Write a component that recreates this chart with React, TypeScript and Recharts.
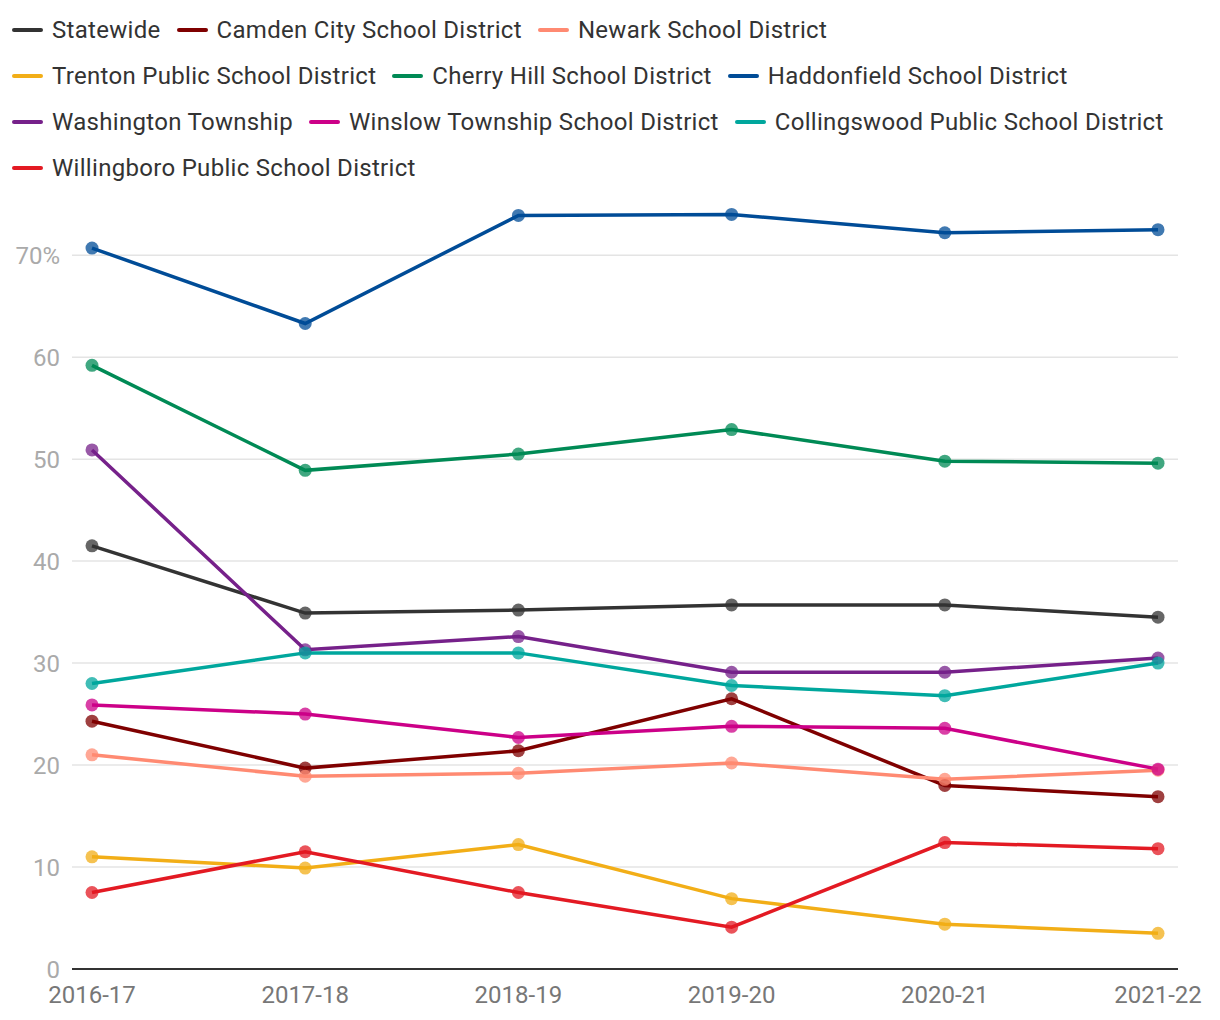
import React from "react";
import { LineChart, Line, XAxis, YAxis, CartesianGrid } from "recharts";

const years = ["2016-17", "2017-18", "2018-19", "2019-20", "2020-21", "2021-22"];
const yTicks = [0, 10, 20, 30, 40, 50, 60, 70];

const statewide = [41.5, 34.9, 35.2, 35.7, 35.7, 34.5];
const camden = [24.3, 19.7, 21.4, 26.5, 18.0, 16.9];
const newark = [21.0, 18.9, 19.2, 20.2, 18.6, 19.5];
const trenton = [11.0, 9.9, 12.2, 6.9, 4.4, 3.5];
const cherryHill = [59.2, 48.9, 50.5, 52.9, 49.8, 49.6];
const haddonfield = [70.7, 63.3, 73.9, 74.0, 72.2, 72.5];
const washington = [50.9, 31.3, 32.6, 29.1, 29.1, 30.5];
const winslow = [25.9, 25.0, 22.7, 23.8, 23.6, 19.6];
const collingswood = [28.0, 31.0, 31.0, 27.8, 26.8, 30.0];
const willingboro = [7.5, 11.5, 7.5, 4.1, 12.4, 11.8];

const series = [
  { key: "statewide", name: "Statewide", color: "#333333", values: statewide },
  { key: "camden", name: "Camden City School District", color: "#7f0000", values: camden },
  { key: "newark", name: "Newark School District", color: "#ff8a72", values: newark },
  { key: "trenton", name: "Trenton Public School District", color: "#f2ae17", values: trenton },
  { key: "cherryHill", name: "Cherry Hill School District", color: "#008a55", values: cherryHill },
  { key: "haddonfield", name: "Haddonfield School District", color: "#004c97", values: haddonfield },
  { key: "washington", name: "Washington Township", color: "#76218a", values: washington },
  { key: "winslow", name: "Winslow Township School District", color: "#cc0088", values: winslow },
  { key: "collingswood", name: "Collingswood Public School District", color: "#00a79d", values: collingswood },
  { key: "willingboro", name: "Willingboro Public School District", color: "#e31a23", values: willingboro },
];

const data = years.map((year, i) => {
  const row: Record<string, any> = { year };
  series.forEach((s) => {
    row[s.key] = s.values[i];
  });
  return row;
});

const FONT = "Roboto, 'Noto Sans', sans-serif";

const legendRows: typeof series[] = [];
for (let i = 0; i < series.length; i += 3) legendRows.push(series.slice(i, i + 3));

function LegendBlock() {
  return (
    <div style={{ position: "absolute", left: 4, top: -1, fontFamily: FONT, fontSize: 24, letterSpacing: 0.3, color: "#333" }}>
      {legendRows.map((row, ri) => (
        <div key={ri} style={{ display: "flex", alignItems: "center", height: 46 }}>
          {row.map((s) => (
            <div key={s.key} style={{ display: "flex", alignItems: "center", marginRight: 16 }}>
              <div style={{ width: 31, height: 4, borderRadius: 2, background: s.color, marginRight: 9 }} />
              <span style={{ whiteSpace: "nowrap" }}>{s.name}</span>
            </div>
          ))}
        </div>
      ))}
    </div>
  );
}

export default function App() {
  return (
    <div style={{ position: "relative", width: 1204, height: 1010 }}>
      <LineChart width={1204} height={1010} data={data} margin={{ top: 186, right: 34, left: 0, bottom: 9 }}>
        <CartesianGrid vertical={false} horizontalValues={yTicks} stroke="#e4e4e4" strokeWidth={1.5} />
        <XAxis
          dataKey="year"
          padding={{ left: 20, right: 20 }}
          axisLine={{ stroke: "#333", strokeWidth: 2 }}
          tickLine={false}
          tickSize={0}
          tickMargin={17}
          height={40}
          interval={0}
          tick={{ fill: "#777", fontSize: 24, fontFamily: FONT }}
        />
        <YAxis
          domain={[0, 76]}
          ticks={yTicks}
          axisLine={false}
          tickLine={false}
          tickSize={0}
          tickMargin={12}
          width={64}
          tick={{ fill: "#aaa", fontSize: 24, fontFamily: FONT }}
          tickFormatter={(v: number) => (v === 70 ? "70%" : String(v))}
        />
        {series.map((s) => (
          <Line
            key={s.key}
            dataKey={s.key}
            name={s.name}
            type="linear"
            stroke={s.color}
            strokeWidth={3.5}
            dot={{ r: 6.5, fill: s.color, fillOpacity: 0.75, stroke: "none" }}
            activeDot={false}
            isAnimationActive={false}
          />
        ))}
      </LineChart>
      <LegendBlock />
    </div>
  );
}
